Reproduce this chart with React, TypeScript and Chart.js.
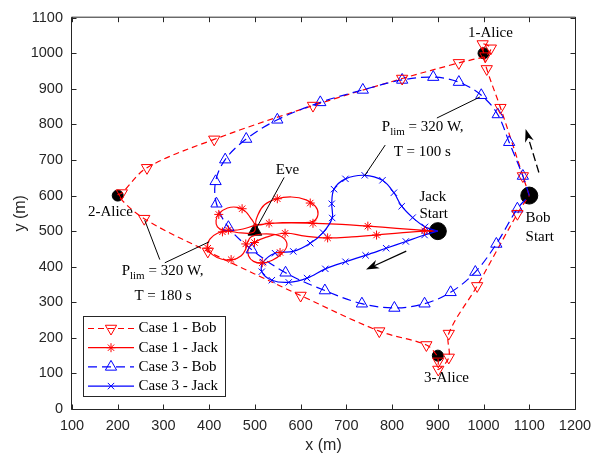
import React, { useEffect, useRef } from "react";
import { Chart, registerables } from "chart.js";

Chart.register(...registerables);

type Pt = [number, number];

// ---------------- data ----------------
const xTickValues = [100, 200, 300, 400, 500, 600, 700, 800, 900, 1000, 1100, 1200];
const yTickValues = [0, 100, 200, 300, 400, 500, 600, 700, 800, 900, 1000, 1100];

const seriesNames = ["Case 1 - Bob", "Case 1 - Jack", "Case 3 - Bob", "Case 3 - Jack"];

const case1BobPath: Pt[] = [
  [1100, 600], [1086, 655], [1062, 750], [1037, 847], [1007, 956], [1001, 995], [998, 1026],
  [1016, 1014], [1004, 992], [975, 982], [946, 973], [822, 929], [627, 853], [411, 758],
  [264, 678], [209, 607], [200, 600], [258, 535], [397, 443], [600, 319], [772, 219],
  [875, 180], [897, 152], [901, 134], [901, 111], [924, 145], [924, 212], [986, 346],
  [1074, 549], [1100, 600],
];
const case1BobMarkers: Pt[] = [
  [1086, 655], [1037, 847], [1007, 956], [998, 1026], [1016, 1014], [1004, 992], [946, 973],
  [822, 929], [627, 853], [411, 758], [264, 678], [209, 607], [258, 535], [397, 443],
  [600, 319], [772, 219], [875, 180], [901, 134], [924, 145], [901, 111], [924, 212],
  [986, 346], [1074, 549],
];

const case1JackPath: Pt[] = [
  [900, 500], [871, 502], [810, 508], [747, 514], [690, 519], [627, 522], [580, 523], [531, 522], [503, 519],
  [507, 547], [521, 574], [546, 590], [580, 596], [612, 588], [632, 570], [638, 548], [628, 528], [600, 524], [560, 524], [527, 521], [500, 516],
  [474, 506], [448, 502], [430, 503], [418, 512], [415, 530], [421, 549], [440, 565], [462, 567], [478, 557], [490, 538], [500, 516],
  [497, 497], [470, 495], [440, 500], [418, 494], [402, 478], [396, 455], [407, 434], [428, 421], [450, 419], [470, 431], [480, 450], [484, 469], [492, 484],
  [515, 492], [545, 490], [564, 479], [570, 459], [559, 437], [538, 418], [516, 410], [497, 415], [486, 431], [486, 451], [499, 468], [525, 483], [566, 494],
  [610, 486], [659, 481], [712, 484], [766, 489], [818, 495], [871, 500], [900, 500],
];
const case1JackMarkers: Pt[] = [
  [871, 501], [747, 514], [766, 489], [627, 522], [659, 481], [531, 522], [549, 591], [621, 579],
  [566, 494], [555, 440], [516, 411], [480, 464], [499, 468], [421, 547], [472, 563], [429, 498],
  [442, 503], [397, 452], [448, 420],
];

const case3BobPath: Pt[] = [
  [1100, 600], [1086, 655], [1056, 750], [1031, 828], [995, 882], [946, 919], [890, 933], [822, 925],
  [736, 897], [643, 862], [549, 813], [481, 759], [435, 701], [414, 640], [416, 577], [442, 511],
  [493, 448], [567, 383], [653, 333], [734, 296], [805, 284], [871, 296], [928, 328], [982, 385],
  [1028, 464], [1074, 563], [1100, 600],
];
const case3BobMarkers: Pt[] = case3BobPath.slice(1, -1);

const case3JackPath: Pt[] = [
  [900, 500], [871, 489], [830, 471], [787, 452], [742, 432], [698, 414], [654, 394], [614, 368],
  [574, 356], [537, 362], [515, 386], [518, 413], [544, 438], [584, 443], [621, 466], [649, 496],
  [669, 537], [668, 577], [673, 618], [698, 647], [740, 657], [779, 643], [804, 608], [821, 570],
  [845, 538], [872, 512], [900, 500],
];
const case3JackMarkers: Pt[] = case3JackPath.slice(1, -1);

const aliceNodes: Pt[] = [[1000, 1000], [200, 600], [900, 150]];
const startNodes: Pt[] = [[900, 500], [1100, 600]];
const eveNode: Pt[] = [[500, 500]];

const textLabels: { text: string; x: number; y: number; align: CanvasTextAlign }[] = [
  { text: "1-Alice", x: 1015, y: 1058, align: "center" },
  { text: "2-Alice", x: 184, y: 554, align: "center" },
  { text: "3-Alice", x: 919, y: 86, align: "center" },
  { text: "Eve", x: 571, y: 672, align: "center" },
  { text: "Jack", x: 860, y: 597, align: "left" },
  { text: "Start", x: 860, y: 547, align: "left" },
  { text: "Bob", x: 1092, y: 536, align: "left" },
  { text: "Start", x: 1092, y: 483, align: "left" },
  { text: "T = 100 s", x: 866, y: 723, align: "center" },
  { text: "T = 180 s", x: 299, y: 317, align: "center" },
];
const powerLabels: Pt[] = [[867, 793], [298, 387]];

const pointerLines: [Pt, Pt][] = [
  [[564, 651], [504, 510]],
  [[898, 818], [992, 877]],
  [[785, 742], [740, 656]],
  [[292, 420], [259, 531]],
  [[303, 411], [400, 470]],
];
const arrows: { from: Pt; to: Pt; dashed: boolean }[] = [
  { from: [1121, 665], to: [1092, 787], dashed: true },
  { from: [831, 444], to: [743, 392], dashed: false },
];

// ---------------- styles ----------------
const RED = "#ff0000";
const BLUE = "#0000ff";
const AXIS = "#262626";
const SERIF = '"Liberation Serif", "Times New Roman", serif';
const SANS = '"Liberation Sans", Arial, Helvetica, sans-serif';
const RED_DASH = [6, 4];
const BLUE_DASH = [9, 5];
const TRI_R = 6.5;

const xy = (a: Pt[]) => a.map(([x, y]) => ({ x, y }));

function drawMarker(ctx: CanvasRenderingContext2D, kind: string, x: number, y: number, r: number) {
  ctx.beginPath();
  if (kind === "tdown" || kind === "tup") {
    const rot = kind === "tdown" ? Math.PI : 0;
    for (let i = 0; i < 3; i++) {
      const a = rot + (i * 2 * Math.PI) / 3;
      const px = x + Math.sin(a) * r;
      const py = y - Math.cos(a) * r;
      if (i === 0) ctx.moveTo(px, py);
      else ctx.lineTo(px, py);
    }
    ctx.closePath();
  } else if (kind === "star") {
    for (let i = 0; i < 4; i++) {
      const a = (i * Math.PI) / 4;
      ctx.moveTo(x + Math.cos(a) * r, y + Math.sin(a) * r);
      ctx.lineTo(x - Math.cos(a) * r, y - Math.sin(a) * r);
    }
  } else if (kind === "x") {
    const d = r * Math.SQRT1_2;
    ctx.moveTo(x - d, y - d);
    ctx.lineTo(x + d, y + d);
    ctx.moveTo(x - d, y + d);
    ctx.lineTo(x + d, y - d);
  }
  ctx.stroke();
}

function drawArrowHead(ctx: CanvasRenderingContext2D, x1: number, y1: number, x2: number, y2: number) {
  const dx = x2 - x1;
  const dy = y2 - y1;
  const len = Math.hypot(dx, dy);
  const ux = dx / len;
  const uy = dy / len;
  const nx = -uy;
  const ny = ux;
  const L = 13;
  const W = 4.5;
  const bx = x2 - ux * L;
  const by = y2 - uy * L;
  const nX = x2 - ux * L * 0.7;
  const nY = y2 - uy * L * 0.7;
  ctx.beginPath();
  ctx.moveTo(x2, y2);
  ctx.lineTo(bx + nx * W, by + ny * W);
  ctx.lineTo(nX, nY);
  ctx.lineTo(bx - nx * W, by - ny * W);
  ctx.closePath();
  ctx.fill();
  return [nX, nY];
}

const overlayPlugin = {
  id: "overlay",
  afterDatasetsDraw(chart: any) {
    const ctx: CanvasRenderingContext2D = chart.ctx;
    const sx = chart.scales.x;
    const sy = chart.scales.y;
    const px = (v: number) => sx.getPixelForValue(v);
    const py = (v: number) => sy.getPixelForValue(v);
    ctx.save();
    ctx.strokeStyle = "#000";
    ctx.fillStyle = "#000";
    ctx.lineWidth = 1;
    for (const [a, b] of pointerLines) {
      ctx.beginPath();
      ctx.moveTo(px(a[0]), py(a[1]));
      ctx.lineTo(px(b[0]), py(b[1]));
      ctx.stroke();
    }
    for (const ar of arrows) {
      const x1 = px(ar.from[0]);
      const y1 = py(ar.from[1]);
      const x2 = px(ar.to[0]);
      const y2 = py(ar.to[1]);
      const [nX, nY] = drawArrowHead(ctx, x1, y1, x2, y2);
      ctx.beginPath();
      ctx.lineWidth = 1.3;
      ctx.setLineDash(ar.dashed ? [8, 4] : []);
      ctx.moveTo(x1, y1);
      ctx.lineTo(nX, nY);
      ctx.stroke();
      ctx.setLineDash([]);
    }
    ctx.font = `15px ${SERIF}`;
    ctx.textBaseline = "middle";
    for (const t of textLabels) {
      ctx.textAlign = t.align;
      ctx.fillText(t.text, px(t.x), py(t.y));
    }
    for (const [lx, ly] of powerLabels) {
      const main = `15px ${SERIF}`;
      const sub = `11px ${SERIF}`;
      ctx.font = main;
      const wP = ctx.measureText("P").width;
      const wRest = ctx.measureText(" = 320 W,").width;
      ctx.font = sub;
      const wSub = ctx.measureText("lim").width;
      const total = wP + wSub + wRest;
      let cx = px(lx) - total / 2;
      const cy = py(ly);
      ctx.textAlign = "left";
      ctx.font = main;
      ctx.fillText("P", cx, cy);
      cx += wP;
      ctx.font = sub;
      ctx.fillText("lim", cx, cy + 5);
      cx += wSub;
      ctx.font = main;
      ctx.fillText(" = 320 W,", cx, cy);
    }
    ctx.restore();
  },
  afterDraw(chart: any) {
    const ctx: CanvasRenderingContext2D = chart.ctx;
    const sx = chart.scales.x;
    const sy = chart.scales.y;
    const { left, right, top, bottom } = chart.chartArea;
    ctx.save();
    ctx.strokeStyle = AXIS;
    ctx.lineWidth = 1;
    const L = left - 0.5;
    const R = right + 0.5;
    const T = top - 0.5;
    const B = bottom + 0.5;
    ctx.beginPath();
    ctx.rect(L, T, R - L, B - T);
    for (const v of xTickValues) {
      const p = Math.round(sx.getPixelForValue(v)) + 0.5;
      ctx.moveTo(p, B);
      ctx.lineTo(p, B - 5);
      ctx.moveTo(p, T);
      ctx.lineTo(p, T + 5);
    }
    for (const v of yTickValues) {
      const p = Math.round(sy.getPixelForValue(v)) + 0.5;
      ctx.moveTo(L, p);
      ctx.lineTo(L + 5, p);
      ctx.moveTo(R, p);
      ctx.lineTo(R - 5, p);
    }
    ctx.stroke();

    // axis titles
    ctx.fillStyle = AXIS;
    ctx.font = `16px ${SANS}`;
    ctx.textAlign = "center";
    ctx.textBaseline = "middle";
    ctx.fillText("x (m)", (left + right) / 2, 446);
    ctx.save();
    ctx.translate(21, (top + bottom) / 2);
    ctx.rotate(-Math.PI / 2);
    ctx.fillText("y (m)", 0, 0);
    ctx.restore();

    // legend
    const bx = 83.5;
    const by = 316.5;
    const bw = 142;
    const bh = 80;
    ctx.fillStyle = "#fff";
    ctx.fillRect(bx, by, bw, bh);
    ctx.strokeStyle = AXIS;
    ctx.strokeRect(bx, by, bw, bh);
    const rows = [
      { color: RED, dash: RED_DASH, marker: "tdown", r: TRI_R },
      { color: RED, dash: [], marker: "star", r: 4.5 },
      { color: BLUE, dash: BLUE_DASH, marker: "tup", r: TRI_R },
      { color: BLUE, dash: [], marker: "x", r: 4.5 },
    ];
    rows.forEach((row, i) => {
      const yy = 328.5 + i * 19.2;
      ctx.strokeStyle = row.color;
      ctx.lineWidth = 1.2;
      ctx.setLineDash(row.dash);
      ctx.beginPath();
      ctx.moveTo(88, yy);
      ctx.lineTo(134, yy);
      ctx.stroke();
      ctx.setLineDash([]);
      ctx.lineWidth = 1;
      drawMarker(ctx, row.marker, 111, yy, row.r);
      ctx.fillStyle = "#000";
      ctx.font = `15px ${SERIF}`;
      ctx.textAlign = "left";
      ctx.textBaseline = "middle";
      ctx.fillText(seriesNames[i], 138.5, yy);
    });
    ctx.restore();
  },
};

export default function App() {
  const canvasRef = useRef<HTMLCanvasElement | null>(null);

  useEffect(() => {
    document.body.style.margin = "0";
    const canvas = canvasRef.current;
    if (!canvas) return;

    const lineDs = (label: string, data: Pt[], color: string, dash: number[], order: number, tension: number) => ({
      label,
      data: xy(data),
      showLine: true,
      borderColor: color,
      borderWidth: 1.2,
      borderDash: dash,
      tension,
      pointRadius: 0,
      pointHoverRadius: 0,
      fill: false,
      order,
    });
    const markDs = (label: string, data: Pt[], color: string, style: string, radius: number, rotation: number, order: number) => ({
      label,
      data: xy(data),
      showLine: false,
      pointStyle: style,
      pointRadius: radius,
      pointHoverRadius: radius,
      rotation,
      pointBorderColor: color,
      pointBackgroundColor: "rgba(0,0,0,0)",
      pointBorderWidth: 1,
      order,
    });

    const chart = new Chart(canvas, {
      type: "scatter",
      data: {
        datasets: [
          markDs(seriesNames[0] + " markers", case1BobMarkers, RED, "triangle", TRI_R, 180, 1),
          markDs(seriesNames[1] + " markers", case1JackMarkers, RED, "star", 4.5, 0, 2),
          markDs(seriesNames[2] + " markers", case3BobMarkers, BLUE, "triangle", TRI_R, 0, 3),
          markDs(seriesNames[3] + " markers", case3JackMarkers, BLUE, "crossRot", 4.5, 0, 4),
          lineDs(seriesNames[3], case3JackPath, BLUE, [], 5, 0.35),
          lineDs(seriesNames[1], case1JackPath, RED, [], 6, 0.4),
          lineDs(seriesNames[2], case3BobPath, BLUE, BLUE_DASH, 7, 0.35),
          lineDs(seriesNames[0], case1BobPath, RED, RED_DASH, 8, 0.35),
          {
            label: "Eve",
            data: xy(eveNode),
            pointStyle: "triangle",
            pointRadius: 8,
            pointBackgroundColor: "#000",
            pointBorderColor: "#000",
            pointBorderWidth: 1,
            order: 9,
          },
          {
            label: "Alice",
            data: xy(aliceNodes),
            pointStyle: "circle",
            pointRadius: 5.5,
            pointBackgroundColor: "#000",
            pointBorderColor: "#000",
            pointBorderWidth: 1,
            order: 10,
          },
          {
            label: "Start",
            data: xy(startNodes),
            pointStyle: "circle",
            pointRadius: 8.5,
            pointBackgroundColor: "#000",
            pointBorderColor: "#000",
            pointBorderWidth: 1,
            order: 11,
          },
        ] as any,
      },
      options: {
        animation: false,
        responsive: false,
        devicePixelRatio: 1,
        events: [],
        layout: { padding: { left: 0, top: 11, right: 26, bottom: 0 } },
        plugins: { legend: { display: false }, tooltip: { enabled: false }, title: { display: false } },
        scales: {
          x: {
            type: "linear",
            min: 100,
            max: 1200,
            grid: { display: false, drawTicks: false },
            border: { display: false },
            afterFit: (s: any) => {
              s.height = 48;
            },
            afterBuildTicks: (s: any) => {
              s.ticks = xTickValues.map((v) => ({ value: v }));
            },
            ticks: {
              autoSkip: false,
              maxRotation: 0,
              padding: 8,
              color: AXIS,
              font: { family: SANS, size: 14.5 },
              callback: (v: any) => String(v),
            },
          },
          y: {
            type: "linear",
            min: 0,
            max: 1100,
            grid: { display: false, drawTicks: false },
            border: { display: false },
            afterFit: (s: any) => {
              s.width = 72;
            },
            afterBuildTicks: (s: any) => {
              s.ticks = yTickValues.map((v) => ({ value: v }));
            },
            ticks: {
              autoSkip: false,
              padding: 9,
              color: AXIS,
              font: { family: SANS, size: 14.5 },
              callback: (v: any) => String(v),
            },
          },
        },
      } as any,
      plugins: [overlayPlugin as any],
    });

    return () => {
      chart.destroy();
    };
  }, []);

  return (
    <div style={{ width: 601, height: 457, background: "#fff" }}>
      <canvas ref={canvasRef} width={601} height={457} style={{ display: "block" }} />
    </div>
  );
}
